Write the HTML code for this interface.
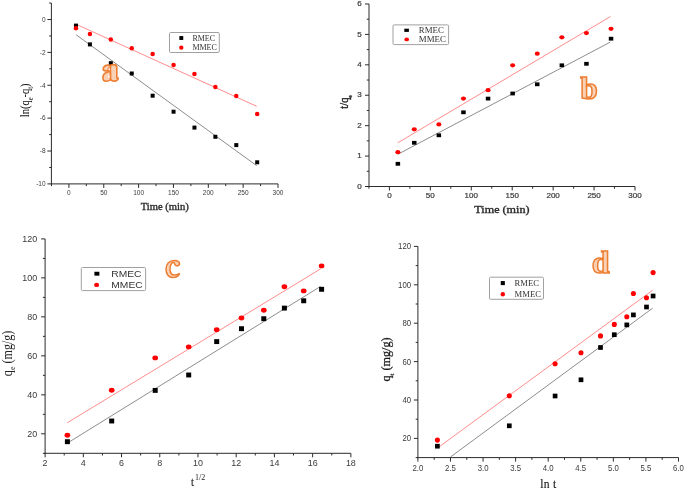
<!DOCTYPE html><html><head><meta charset="utf-8"><style>html,body{margin:0;padding:0;background:#fff;}svg{display:block;filter:blur(0.3px);}</style></head><body>
<svg width="685" height="489" viewBox="0 0 685 489">
<rect width="685" height="489" fill="#fff"/>
<line x1="51.40" y1="3.06" x2="51.40" y2="184.40" stroke="#2b2b2b" stroke-width="1.0" />
<line x1="50.98" y1="183.90" x2="278.00" y2="183.90" stroke="#2b2b2b" stroke-width="1.0" />
<line x1="47.40" y1="183.90" x2="51.40" y2="183.90" stroke="#2b2b2b" stroke-width="1.0" />
<line x1="47.40" y1="151.02" x2="51.40" y2="151.02" stroke="#2b2b2b" stroke-width="1.0" />
<line x1="47.40" y1="118.14" x2="51.40" y2="118.14" stroke="#2b2b2b" stroke-width="1.0" />
<line x1="47.40" y1="85.26" x2="51.40" y2="85.26" stroke="#2b2b2b" stroke-width="1.0" />
<line x1="47.40" y1="52.38" x2="51.40" y2="52.38" stroke="#2b2b2b" stroke-width="1.0" />
<line x1="47.40" y1="19.50" x2="51.40" y2="19.50" stroke="#2b2b2b" stroke-width="1.0" />
<line x1="49.20" y1="167.46" x2="51.40" y2="167.46" stroke="#2b2b2b" stroke-width="1.0" />
<line x1="49.20" y1="134.58" x2="51.40" y2="134.58" stroke="#2b2b2b" stroke-width="1.0" />
<line x1="49.20" y1="101.70" x2="51.40" y2="101.70" stroke="#2b2b2b" stroke-width="1.0" />
<line x1="49.20" y1="68.82" x2="51.40" y2="68.82" stroke="#2b2b2b" stroke-width="1.0" />
<line x1="49.20" y1="35.94" x2="51.40" y2="35.94" stroke="#2b2b2b" stroke-width="1.0" />
<line x1="49.20" y1="3.06" x2="51.40" y2="3.06" stroke="#2b2b2b" stroke-width="1.0" />
<line x1="68.90" y1="183.90" x2="68.90" y2="187.90" stroke="#2b2b2b" stroke-width="1.0" />
<line x1="103.75" y1="183.90" x2="103.75" y2="187.90" stroke="#2b2b2b" stroke-width="1.0" />
<line x1="138.60" y1="183.90" x2="138.60" y2="187.90" stroke="#2b2b2b" stroke-width="1.0" />
<line x1="173.45" y1="183.90" x2="173.45" y2="187.90" stroke="#2b2b2b" stroke-width="1.0" />
<line x1="208.30" y1="183.90" x2="208.30" y2="187.90" stroke="#2b2b2b" stroke-width="1.0" />
<line x1="243.15" y1="183.90" x2="243.15" y2="187.90" stroke="#2b2b2b" stroke-width="1.0" />
<line x1="278.00" y1="183.90" x2="278.00" y2="187.90" stroke="#2b2b2b" stroke-width="1.0" />
<line x1="51.48" y1="183.90" x2="51.48" y2="186.10" stroke="#2b2b2b" stroke-width="1.0" />
<line x1="86.33" y1="183.90" x2="86.33" y2="186.10" stroke="#2b2b2b" stroke-width="1.0" />
<line x1="121.18" y1="183.90" x2="121.18" y2="186.10" stroke="#2b2b2b" stroke-width="1.0" />
<line x1="156.03" y1="183.90" x2="156.03" y2="186.10" stroke="#2b2b2b" stroke-width="1.0" />
<line x1="190.88" y1="183.90" x2="190.88" y2="186.10" stroke="#2b2b2b" stroke-width="1.0" />
<line x1="225.72" y1="183.90" x2="225.72" y2="186.10" stroke="#2b2b2b" stroke-width="1.0" />
<line x1="260.57" y1="183.90" x2="260.57" y2="186.10" stroke="#2b2b2b" stroke-width="1.0" />
<text x="68.90" y="195.20" font-family='"Liberation Sans", sans-serif' font-size="6.5" text-anchor="middle" fill="#3a3a3a" font-weight="normal" >0</text>
<text x="103.75" y="195.20" font-family='"Liberation Sans", sans-serif' font-size="6.5" text-anchor="middle" fill="#3a3a3a" font-weight="normal" >50</text>
<text x="138.60" y="195.20" font-family='"Liberation Sans", sans-serif' font-size="6.5" text-anchor="middle" fill="#3a3a3a" font-weight="normal" >100</text>
<text x="173.45" y="195.20" font-family='"Liberation Sans", sans-serif' font-size="6.5" text-anchor="middle" fill="#3a3a3a" font-weight="normal" >150</text>
<text x="208.30" y="195.20" font-family='"Liberation Sans", sans-serif' font-size="6.5" text-anchor="middle" fill="#3a3a3a" font-weight="normal" >200</text>
<text x="243.15" y="195.20" font-family='"Liberation Sans", sans-serif' font-size="6.5" text-anchor="middle" fill="#3a3a3a" font-weight="normal" >250</text>
<text x="278.00" y="195.20" font-family='"Liberation Sans", sans-serif' font-size="6.5" text-anchor="middle" fill="#3a3a3a" font-weight="normal" >300</text>
<text x="45.60" y="186.24" font-family='"Liberation Sans", sans-serif' font-size="6.5" text-anchor="end" fill="#3a3a3a" font-weight="normal" >-10</text>
<text x="45.60" y="153.36" font-family='"Liberation Sans", sans-serif' font-size="6.5" text-anchor="end" fill="#3a3a3a" font-weight="normal" >-8</text>
<text x="45.60" y="120.48" font-family='"Liberation Sans", sans-serif' font-size="6.5" text-anchor="end" fill="#3a3a3a" font-weight="normal" >-6</text>
<text x="45.60" y="87.60" font-family='"Liberation Sans", sans-serif' font-size="6.5" text-anchor="end" fill="#3a3a3a" font-weight="normal" >-4</text>
<text x="45.60" y="54.72" font-family='"Liberation Sans", sans-serif' font-size="6.5" text-anchor="end" fill="#3a3a3a" font-weight="normal" >-2</text>
<text x="45.60" y="21.84" font-family='"Liberation Sans", sans-serif' font-size="6.5" text-anchor="end" fill="#3a3a3a" font-weight="normal" >0</text>
<line x1="76.20" y1="24.30" x2="256.70" y2="106.30" stroke="#ff7070" stroke-width="0.8" />
<line x1="76.20" y1="34.80" x2="256.70" y2="165.70" stroke="#707070" stroke-width="0.8" />
<rect x="73.97" y="23.60" width="4.00" height="4.00" fill="#000"/>
<rect x="87.91" y="42.40" width="4.00" height="4.00" fill="#000"/>
<rect x="108.82" y="61.20" width="4.00" height="4.00" fill="#000"/>
<rect x="129.73" y="71.50" width="4.00" height="4.00" fill="#000"/>
<rect x="150.64" y="93.70" width="4.00" height="4.00" fill="#000"/>
<rect x="171.55" y="109.70" width="4.00" height="4.00" fill="#000"/>
<rect x="192.46" y="125.60" width="4.00" height="4.00" fill="#000"/>
<rect x="213.37" y="134.80" width="4.00" height="4.00" fill="#000"/>
<rect x="234.28" y="143.10" width="4.00" height="4.00" fill="#000"/>
<rect x="255.19" y="160.30" width="4.00" height="4.00" fill="#000"/>
<ellipse cx="75.97" cy="28.20" rx="2.25" ry="2.25" fill="#ff0000"/>
<ellipse cx="89.91" cy="33.90" rx="2.25" ry="2.25" fill="#ff0000"/>
<ellipse cx="110.82" cy="39.60" rx="2.25" ry="2.25" fill="#ff0000"/>
<ellipse cx="131.73" cy="48.30" rx="2.25" ry="2.25" fill="#ff0000"/>
<ellipse cx="152.64" cy="54.00" rx="2.25" ry="2.25" fill="#ff0000"/>
<ellipse cx="173.55" cy="65.00" rx="2.25" ry="2.25" fill="#ff0000"/>
<ellipse cx="194.46" cy="73.90" rx="2.25" ry="2.25" fill="#ff0000"/>
<ellipse cx="215.37" cy="87.10" rx="2.25" ry="2.25" fill="#ff0000"/>
<ellipse cx="236.28" cy="96.00" rx="2.25" ry="2.25" fill="#ff0000"/>
<ellipse cx="257.19" cy="114.10" rx="2.25" ry="2.25" fill="#ff0000"/>
<rect x="169.5" y="32.5" width="49.8" height="20" fill="#fff" stroke="#a0a0a0" stroke-width="1" rx="1.2"/>
<rect x="179.35" y="36.05" width="3.90" height="3.90" fill="#000"/>
<ellipse cx="181.30" cy="47.70" rx="2.15" ry="2.15" fill="#ff0000"/>
<text x="192.40" y="40.90" font-family='"Liberation Serif", serif' font-size="8" text-anchor="start" fill="#333" font-weight="normal" >RMEC</text>
<text x="192.40" y="50.40" font-family='"Liberation Serif", serif' font-size="8" text-anchor="start" fill="#333" font-weight="normal" >MMEC</text>
<text x="164.80" y="209.70" font-family='"Liberation Serif", serif' font-size="10.6" text-anchor="middle" fill="#2a2a2a" font-weight="normal" stroke="#2a2a2a" stroke-width="0.35">Time (min)</text>
<text transform="translate(28.8,100.3) scale(1.13,1) rotate(-90)" font-family='"Liberation Serif", serif' font-size="10.5" text-anchor="middle" fill="#111">ln(q<tspan font-size="6.5" dy="3.5">e</tspan><tspan dy="-3.5">-q</tspan><tspan font-size="6.5" dy="3.5">t</tspan><tspan dy="-3.5">)</tspan></text>
<line x1="369.00" y1="3.98" x2="369.00" y2="187.00" stroke="#2b2b2b" stroke-width="1.0" />
<line x1="368.43" y1="186.50" x2="635.01" y2="186.50" stroke="#2b2b2b" stroke-width="1.0" />
<line x1="365.00" y1="186.50" x2="369.00" y2="186.50" stroke="#2b2b2b" stroke-width="1.0" />
<line x1="365.00" y1="156.08" x2="369.00" y2="156.08" stroke="#2b2b2b" stroke-width="1.0" />
<line x1="365.00" y1="125.66" x2="369.00" y2="125.66" stroke="#2b2b2b" stroke-width="1.0" />
<line x1="365.00" y1="95.24" x2="369.00" y2="95.24" stroke="#2b2b2b" stroke-width="1.0" />
<line x1="365.00" y1="64.82" x2="369.00" y2="64.82" stroke="#2b2b2b" stroke-width="1.0" />
<line x1="365.00" y1="34.40" x2="369.00" y2="34.40" stroke="#2b2b2b" stroke-width="1.0" />
<line x1="365.00" y1="3.98" x2="369.00" y2="3.98" stroke="#2b2b2b" stroke-width="1.0" />
<line x1="366.80" y1="171.29" x2="369.00" y2="171.29" stroke="#2b2b2b" stroke-width="1.0" />
<line x1="366.80" y1="140.87" x2="369.00" y2="140.87" stroke="#2b2b2b" stroke-width="1.0" />
<line x1="366.80" y1="110.45" x2="369.00" y2="110.45" stroke="#2b2b2b" stroke-width="1.0" />
<line x1="366.80" y1="80.03" x2="369.00" y2="80.03" stroke="#2b2b2b" stroke-width="1.0" />
<line x1="366.80" y1="49.61" x2="369.00" y2="49.61" stroke="#2b2b2b" stroke-width="1.0" />
<line x1="366.80" y1="19.19" x2="369.00" y2="19.19" stroke="#2b2b2b" stroke-width="1.0" />
<line x1="389.40" y1="186.50" x2="389.40" y2="190.50" stroke="#2b2b2b" stroke-width="1.0" />
<line x1="430.33" y1="186.50" x2="430.33" y2="190.50" stroke="#2b2b2b" stroke-width="1.0" />
<line x1="471.27" y1="186.50" x2="471.27" y2="190.50" stroke="#2b2b2b" stroke-width="1.0" />
<line x1="512.20" y1="186.50" x2="512.20" y2="190.50" stroke="#2b2b2b" stroke-width="1.0" />
<line x1="553.14" y1="186.50" x2="553.14" y2="190.50" stroke="#2b2b2b" stroke-width="1.0" />
<line x1="594.07" y1="186.50" x2="594.07" y2="190.50" stroke="#2b2b2b" stroke-width="1.0" />
<line x1="635.01" y1="186.50" x2="635.01" y2="190.50" stroke="#2b2b2b" stroke-width="1.0" />
<line x1="368.93" y1="186.50" x2="368.93" y2="188.70" stroke="#2b2b2b" stroke-width="1.0" />
<line x1="409.87" y1="186.50" x2="409.87" y2="188.70" stroke="#2b2b2b" stroke-width="1.0" />
<line x1="450.80" y1="186.50" x2="450.80" y2="188.70" stroke="#2b2b2b" stroke-width="1.0" />
<line x1="491.74" y1="186.50" x2="491.74" y2="188.70" stroke="#2b2b2b" stroke-width="1.0" />
<line x1="532.67" y1="186.50" x2="532.67" y2="188.70" stroke="#2b2b2b" stroke-width="1.0" />
<line x1="573.61" y1="186.50" x2="573.61" y2="188.70" stroke="#2b2b2b" stroke-width="1.0" />
<line x1="614.54" y1="186.50" x2="614.54" y2="188.70" stroke="#2b2b2b" stroke-width="1.0" />
<text transform="translate(389.40,198.00) scale(1.1,1)" font-family='"Liberation Sans", sans-serif' font-size="7.3" text-anchor="middle" fill="#3a3a3a" font-weight="normal" stroke="#3a3a3a" stroke-width="0.2">0</text>
<text transform="translate(430.33,198.00) scale(1.1,1)" font-family='"Liberation Sans", sans-serif' font-size="7.3" text-anchor="middle" fill="#3a3a3a" font-weight="normal" stroke="#3a3a3a" stroke-width="0.2">50</text>
<text transform="translate(471.27,198.00) scale(1.1,1)" font-family='"Liberation Sans", sans-serif' font-size="7.3" text-anchor="middle" fill="#3a3a3a" font-weight="normal" stroke="#3a3a3a" stroke-width="0.2">100</text>
<text transform="translate(512.20,198.00) scale(1.1,1)" font-family='"Liberation Sans", sans-serif' font-size="7.3" text-anchor="middle" fill="#3a3a3a" font-weight="normal" stroke="#3a3a3a" stroke-width="0.2">150</text>
<text transform="translate(553.14,198.00) scale(1.1,1)" font-family='"Liberation Sans", sans-serif' font-size="7.3" text-anchor="middle" fill="#3a3a3a" font-weight="normal" stroke="#3a3a3a" stroke-width="0.2">200</text>
<text transform="translate(594.07,198.00) scale(1.1,1)" font-family='"Liberation Sans", sans-serif' font-size="7.3" text-anchor="middle" fill="#3a3a3a" font-weight="normal" stroke="#3a3a3a" stroke-width="0.2">250</text>
<text transform="translate(635.01,198.00) scale(1.1,1)" font-family='"Liberation Sans", sans-serif' font-size="7.3" text-anchor="middle" fill="#3a3a3a" font-weight="normal" stroke="#3a3a3a" stroke-width="0.2">300</text>
<text transform="translate(361.60,188.62) scale(1.1,1)" font-family='"Liberation Sans", sans-serif' font-size="7.3" text-anchor="end" fill="#3a3a3a" font-weight="normal" stroke="#3a3a3a" stroke-width="0.2">0</text>
<text transform="translate(361.60,158.20) scale(1.1,1)" font-family='"Liberation Sans", sans-serif' font-size="7.3" text-anchor="end" fill="#3a3a3a" font-weight="normal" stroke="#3a3a3a" stroke-width="0.2">1</text>
<text transform="translate(361.60,127.78) scale(1.1,1)" font-family='"Liberation Sans", sans-serif' font-size="7.3" text-anchor="end" fill="#3a3a3a" font-weight="normal" stroke="#3a3a3a" stroke-width="0.2">2</text>
<text transform="translate(361.60,97.36) scale(1.1,1)" font-family='"Liberation Sans", sans-serif' font-size="7.3" text-anchor="end" fill="#3a3a3a" font-weight="normal" stroke="#3a3a3a" stroke-width="0.2">3</text>
<text transform="translate(361.60,66.94) scale(1.1,1)" font-family='"Liberation Sans", sans-serif' font-size="7.3" text-anchor="end" fill="#3a3a3a" font-weight="normal" stroke="#3a3a3a" stroke-width="0.2">4</text>
<text transform="translate(361.60,36.52) scale(1.1,1)" font-family='"Liberation Sans", sans-serif' font-size="7.3" text-anchor="end" fill="#3a3a3a" font-weight="normal" stroke="#3a3a3a" stroke-width="0.2">5</text>
<text transform="translate(361.60,6.10) scale(1.1,1)" font-family='"Liberation Sans", sans-serif' font-size="7.3" text-anchor="end" fill="#3a3a3a" font-weight="normal" stroke="#3a3a3a" stroke-width="0.2">6</text>
<line x1="397.80" y1="142.80" x2="610.50" y2="16.50" stroke="#ff7070" stroke-width="0.8" />
<line x1="397.80" y1="154.30" x2="610.30" y2="42.10" stroke="#707070" stroke-width="0.8" />
<rect x="395.62" y="161.90" width="4.50" height="3.80" fill="#000"/>
<rect x="412.02" y="140.90" width="4.50" height="3.80" fill="#000"/>
<rect x="436.61" y="133.40" width="4.50" height="3.80" fill="#000"/>
<rect x="461.21" y="110.40" width="4.50" height="3.80" fill="#000"/>
<rect x="485.81" y="96.70" width="4.50" height="3.80" fill="#000"/>
<rect x="510.40" y="91.60" width="4.50" height="3.80" fill="#000"/>
<rect x="535.00" y="82.40" width="4.50" height="3.80" fill="#000"/>
<rect x="559.60" y="63.40" width="4.50" height="3.80" fill="#000"/>
<rect x="584.20" y="61.90" width="4.50" height="3.80" fill="#000"/>
<rect x="608.79" y="36.80" width="4.50" height="3.80" fill="#000"/>
<ellipse cx="397.87" cy="152.20" rx="2.55" ry="2.10" fill="#ff0000"/>
<ellipse cx="414.27" cy="129.30" rx="2.55" ry="2.10" fill="#ff0000"/>
<ellipse cx="438.86" cy="124.40" rx="2.55" ry="2.10" fill="#ff0000"/>
<ellipse cx="463.46" cy="98.60" rx="2.55" ry="2.10" fill="#ff0000"/>
<ellipse cx="488.06" cy="90.20" rx="2.55" ry="2.10" fill="#ff0000"/>
<ellipse cx="512.65" cy="65.30" rx="2.55" ry="2.10" fill="#ff0000"/>
<ellipse cx="537.25" cy="53.70" rx="2.55" ry="2.10" fill="#ff0000"/>
<ellipse cx="561.85" cy="37.30" rx="2.55" ry="2.10" fill="#ff0000"/>
<ellipse cx="586.45" cy="33.10" rx="2.55" ry="2.10" fill="#ff0000"/>
<ellipse cx="611.04" cy="28.80" rx="2.55" ry="2.10" fill="#ff0000"/>
<rect x="393.0" y="24.9" width="55.6" height="19.7" fill="#fff" stroke="#a0a0a0" stroke-width="1" rx="1.2"/>
<rect x="404.30" y="28.70" width="4.60" height="3.20" fill="#000"/>
<ellipse cx="406.70" cy="39.40" rx="2.30" ry="1.95" fill="#ff0000"/>
<text transform="translate(418.80,33.00) scale(1.08,1)" font-family='"Liberation Serif", serif' font-size="8.2" text-anchor="start" fill="#333" font-weight="normal" >RMEC</text>
<text transform="translate(418.80,41.90) scale(1.08,1)" font-family='"Liberation Serif", serif' font-size="8.2" text-anchor="start" fill="#333" font-weight="normal" >MMEC</text>
<text transform="translate(501.95,212.60) scale(1.18,1)" font-family='"Liberation Serif", serif' font-size="10.3" text-anchor="middle" fill="#2a2a2a" font-weight="normal" stroke="#2a2a2a" stroke-width="0.35">Time (min)</text>
<text transform="translate(348.2,101.85) scale(1.14,1) rotate(-90)" font-family='"Liberation Serif", serif' font-size="10.4" text-anchor="middle" fill="#1a1a1a" stroke="#1a1a1a" stroke-width="0.3">t/q<tspan font-size="5.8" dy="3.2">e</tspan></text>
<line x1="45.10" y1="238.91" x2="45.10" y2="453.80" stroke="#2b2b2b" stroke-width="1.0" />
<line x1="44.60" y1="453.30" x2="350.86" y2="453.30" stroke="#2b2b2b" stroke-width="1.0" />
<line x1="41.10" y1="433.81" x2="45.10" y2="433.81" stroke="#2b2b2b" stroke-width="1.0" />
<line x1="41.10" y1="394.83" x2="45.10" y2="394.83" stroke="#2b2b2b" stroke-width="1.0" />
<line x1="41.10" y1="355.85" x2="45.10" y2="355.85" stroke="#2b2b2b" stroke-width="1.0" />
<line x1="41.10" y1="316.87" x2="45.10" y2="316.87" stroke="#2b2b2b" stroke-width="1.0" />
<line x1="41.10" y1="277.89" x2="45.10" y2="277.89" stroke="#2b2b2b" stroke-width="1.0" />
<line x1="41.10" y1="238.91" x2="45.10" y2="238.91" stroke="#2b2b2b" stroke-width="1.0" />
<line x1="42.90" y1="453.30" x2="45.10" y2="453.30" stroke="#2b2b2b" stroke-width="1.0" />
<line x1="42.90" y1="414.32" x2="45.10" y2="414.32" stroke="#2b2b2b" stroke-width="1.0" />
<line x1="42.90" y1="375.34" x2="45.10" y2="375.34" stroke="#2b2b2b" stroke-width="1.0" />
<line x1="42.90" y1="336.36" x2="45.10" y2="336.36" stroke="#2b2b2b" stroke-width="1.0" />
<line x1="42.90" y1="297.38" x2="45.10" y2="297.38" stroke="#2b2b2b" stroke-width="1.0" />
<line x1="42.90" y1="258.40" x2="45.10" y2="258.40" stroke="#2b2b2b" stroke-width="1.0" />
<line x1="45.10" y1="453.30" x2="45.10" y2="457.30" stroke="#2b2b2b" stroke-width="1.0" />
<line x1="83.32" y1="453.30" x2="83.32" y2="457.30" stroke="#2b2b2b" stroke-width="1.0" />
<line x1="121.54" y1="453.30" x2="121.54" y2="457.30" stroke="#2b2b2b" stroke-width="1.0" />
<line x1="159.76" y1="453.30" x2="159.76" y2="457.30" stroke="#2b2b2b" stroke-width="1.0" />
<line x1="197.98" y1="453.30" x2="197.98" y2="457.30" stroke="#2b2b2b" stroke-width="1.0" />
<line x1="236.20" y1="453.30" x2="236.20" y2="457.30" stroke="#2b2b2b" stroke-width="1.0" />
<line x1="274.42" y1="453.30" x2="274.42" y2="457.30" stroke="#2b2b2b" stroke-width="1.0" />
<line x1="312.64" y1="453.30" x2="312.64" y2="457.30" stroke="#2b2b2b" stroke-width="1.0" />
<line x1="350.86" y1="453.30" x2="350.86" y2="457.30" stroke="#2b2b2b" stroke-width="1.0" />
<line x1="64.21" y1="453.30" x2="64.21" y2="455.50" stroke="#2b2b2b" stroke-width="1.0" />
<line x1="102.43" y1="453.30" x2="102.43" y2="455.50" stroke="#2b2b2b" stroke-width="1.0" />
<line x1="140.65" y1="453.30" x2="140.65" y2="455.50" stroke="#2b2b2b" stroke-width="1.0" />
<line x1="178.87" y1="453.30" x2="178.87" y2="455.50" stroke="#2b2b2b" stroke-width="1.0" />
<line x1="217.09" y1="453.30" x2="217.09" y2="455.50" stroke="#2b2b2b" stroke-width="1.0" />
<line x1="255.31" y1="453.30" x2="255.31" y2="455.50" stroke="#2b2b2b" stroke-width="1.0" />
<line x1="293.53" y1="453.30" x2="293.53" y2="455.50" stroke="#2b2b2b" stroke-width="1.0" />
<line x1="331.75" y1="453.30" x2="331.75" y2="455.50" stroke="#2b2b2b" stroke-width="1.0" />
<text transform="translate(45.10,466.30) scale(1.08,1)" font-family='"Liberation Sans", sans-serif' font-size="8.3" text-anchor="middle" fill="#3a3a3a" font-weight="normal" >2</text>
<text transform="translate(83.32,466.30) scale(1.08,1)" font-family='"Liberation Sans", sans-serif' font-size="8.3" text-anchor="middle" fill="#3a3a3a" font-weight="normal" >4</text>
<text transform="translate(121.54,466.30) scale(1.08,1)" font-family='"Liberation Sans", sans-serif' font-size="8.3" text-anchor="middle" fill="#3a3a3a" font-weight="normal" >6</text>
<text transform="translate(159.76,466.30) scale(1.08,1)" font-family='"Liberation Sans", sans-serif' font-size="8.3" text-anchor="middle" fill="#3a3a3a" font-weight="normal" >8</text>
<text transform="translate(197.98,466.30) scale(1.08,1)" font-family='"Liberation Sans", sans-serif' font-size="8.3" text-anchor="middle" fill="#3a3a3a" font-weight="normal" >10</text>
<text transform="translate(236.20,466.30) scale(1.08,1)" font-family='"Liberation Sans", sans-serif' font-size="8.3" text-anchor="middle" fill="#3a3a3a" font-weight="normal" >12</text>
<text transform="translate(274.42,466.30) scale(1.08,1)" font-family='"Liberation Sans", sans-serif' font-size="8.3" text-anchor="middle" fill="#3a3a3a" font-weight="normal" >14</text>
<text transform="translate(312.64,466.30) scale(1.08,1)" font-family='"Liberation Sans", sans-serif' font-size="8.3" text-anchor="middle" fill="#3a3a3a" font-weight="normal" >16</text>
<text transform="translate(350.86,466.30) scale(1.08,1)" font-family='"Liberation Sans", sans-serif' font-size="8.3" text-anchor="middle" fill="#3a3a3a" font-weight="normal" >18</text>
<text transform="translate(37.20,436.80) scale(1.08,1)" font-family='"Liberation Sans", sans-serif' font-size="8.3" text-anchor="end" fill="#3a3a3a" font-weight="normal" >20</text>
<text transform="translate(37.20,397.82) scale(1.08,1)" font-family='"Liberation Sans", sans-serif' font-size="8.3" text-anchor="end" fill="#3a3a3a" font-weight="normal" >40</text>
<text transform="translate(37.20,358.84) scale(1.08,1)" font-family='"Liberation Sans", sans-serif' font-size="8.3" text-anchor="end" fill="#3a3a3a" font-weight="normal" >60</text>
<text transform="translate(37.20,319.86) scale(1.08,1)" font-family='"Liberation Sans", sans-serif' font-size="8.3" text-anchor="end" fill="#3a3a3a" font-weight="normal" >80</text>
<text transform="translate(37.20,280.88) scale(1.08,1)" font-family='"Liberation Sans", sans-serif' font-size="8.3" text-anchor="end" fill="#3a3a3a" font-weight="normal" >100</text>
<text transform="translate(37.20,241.90) scale(1.08,1)" font-family='"Liberation Sans", sans-serif' font-size="8.3" text-anchor="end" fill="#3a3a3a" font-weight="normal" >120</text>
<line x1="67.20" y1="422.80" x2="320.60" y2="268.90" stroke="#ff7070" stroke-width="0.8" />
<line x1="67.20" y1="443.20" x2="320.60" y2="286.40" stroke="#707070" stroke-width="0.8" />
<rect x="64.90" y="439.25" width="5.00" height="4.90" fill="#000"/>
<rect x="109.20" y="418.55" width="5.00" height="4.90" fill="#000"/>
<rect x="152.70" y="387.95" width="5.00" height="4.90" fill="#000"/>
<rect x="186.20" y="372.55" width="5.00" height="4.90" fill="#000"/>
<rect x="214.20" y="339.15" width="5.00" height="4.90" fill="#000"/>
<rect x="239.00" y="326.25" width="5.00" height="4.90" fill="#000"/>
<rect x="261.30" y="316.25" width="5.00" height="4.90" fill="#000"/>
<rect x="281.90" y="305.65" width="5.00" height="4.90" fill="#000"/>
<rect x="301.20" y="298.35" width="5.00" height="4.90" fill="#000"/>
<rect x="319.10" y="286.85" width="5.00" height="4.90" fill="#000"/>
<ellipse cx="67.40" cy="435.20" rx="2.85" ry="2.45" fill="#ff0000"/>
<ellipse cx="111.70" cy="390.30" rx="2.85" ry="2.45" fill="#ff0000"/>
<ellipse cx="155.20" cy="357.90" rx="2.85" ry="2.45" fill="#ff0000"/>
<ellipse cx="188.70" cy="346.90" rx="2.85" ry="2.45" fill="#ff0000"/>
<ellipse cx="216.70" cy="329.70" rx="2.85" ry="2.45" fill="#ff0000"/>
<ellipse cx="241.50" cy="318.00" rx="2.85" ry="2.45" fill="#ff0000"/>
<ellipse cx="263.80" cy="310.30" rx="2.85" ry="2.45" fill="#ff0000"/>
<ellipse cx="284.40" cy="286.80" rx="2.85" ry="2.45" fill="#ff0000"/>
<ellipse cx="303.70" cy="290.90" rx="2.85" ry="2.45" fill="#ff0000"/>
<ellipse cx="321.60" cy="265.90" rx="2.85" ry="2.45" fill="#ff0000"/>
<rect x="81.3" y="267.5" width="64.3" height="23.1" fill="#fff" stroke="#a0a0a0" stroke-width="1" rx="1.2"/>
<rect x="94.40" y="271.75" width="5.00" height="3.90" fill="#000"/>
<ellipse cx="96.60" cy="284.90" rx="2.50" ry="2.20" fill="#ff0000"/>
<text transform="translate(111.30,277.00) scale(1.14,1)" font-family='"Liberation Sans", sans-serif' font-size="9" text-anchor="start" fill="#333" font-weight="normal" >RMEC</text>
<text transform="translate(111.30,288.00) scale(1.14,1)" font-family='"Liberation Sans", sans-serif' font-size="9" text-anchor="start" fill="#333" font-weight="normal" >MMEC</text>
<text x="190.7" y="486.2" font-family='"Liberation Serif", serif' font-size="12.5" fill="#222">t<tspan font-size="8" dx="0.9" dy="-6.2">1/2</tspan></text>
<text transform="translate(11.5,353.4) scale(1.16,1) rotate(-90)" font-family='"Liberation Serif", serif' font-size="12.1" text-anchor="middle" fill="#222">q<tspan font-size="8" dy="3">e</tspan><tspan dy="-3"> (mg/g)</tspan></text>
<line x1="417.90" y1="246.40" x2="417.90" y2="458.10" stroke="#2b2b2b" stroke-width="1.0" />
<line x1="417.40" y1="457.60" x2="678.50" y2="457.60" stroke="#2b2b2b" stroke-width="1.0" />
<line x1="413.90" y1="438.40" x2="417.90" y2="438.40" stroke="#2b2b2b" stroke-width="1.0" />
<line x1="413.90" y1="400.00" x2="417.90" y2="400.00" stroke="#2b2b2b" stroke-width="1.0" />
<line x1="413.90" y1="361.60" x2="417.90" y2="361.60" stroke="#2b2b2b" stroke-width="1.0" />
<line x1="413.90" y1="323.20" x2="417.90" y2="323.20" stroke="#2b2b2b" stroke-width="1.0" />
<line x1="413.90" y1="284.80" x2="417.90" y2="284.80" stroke="#2b2b2b" stroke-width="1.0" />
<line x1="413.90" y1="246.40" x2="417.90" y2="246.40" stroke="#2b2b2b" stroke-width="1.0" />
<line x1="415.70" y1="457.60" x2="417.90" y2="457.60" stroke="#2b2b2b" stroke-width="1.0" />
<line x1="415.70" y1="419.20" x2="417.90" y2="419.20" stroke="#2b2b2b" stroke-width="1.0" />
<line x1="415.70" y1="380.80" x2="417.90" y2="380.80" stroke="#2b2b2b" stroke-width="1.0" />
<line x1="415.70" y1="342.40" x2="417.90" y2="342.40" stroke="#2b2b2b" stroke-width="1.0" />
<line x1="415.70" y1="304.00" x2="417.90" y2="304.00" stroke="#2b2b2b" stroke-width="1.0" />
<line x1="415.70" y1="265.60" x2="417.90" y2="265.60" stroke="#2b2b2b" stroke-width="1.0" />
<line x1="417.90" y1="457.60" x2="417.90" y2="461.60" stroke="#2b2b2b" stroke-width="1.0" />
<line x1="450.47" y1="457.60" x2="450.47" y2="461.60" stroke="#2b2b2b" stroke-width="1.0" />
<line x1="483.05" y1="457.60" x2="483.05" y2="461.60" stroke="#2b2b2b" stroke-width="1.0" />
<line x1="515.62" y1="457.60" x2="515.62" y2="461.60" stroke="#2b2b2b" stroke-width="1.0" />
<line x1="548.20" y1="457.60" x2="548.20" y2="461.60" stroke="#2b2b2b" stroke-width="1.0" />
<line x1="580.77" y1="457.60" x2="580.77" y2="461.60" stroke="#2b2b2b" stroke-width="1.0" />
<line x1="613.35" y1="457.60" x2="613.35" y2="461.60" stroke="#2b2b2b" stroke-width="1.0" />
<line x1="645.92" y1="457.60" x2="645.92" y2="461.60" stroke="#2b2b2b" stroke-width="1.0" />
<line x1="678.50" y1="457.60" x2="678.50" y2="461.60" stroke="#2b2b2b" stroke-width="1.0" />
<line x1="434.19" y1="457.60" x2="434.19" y2="459.80" stroke="#2b2b2b" stroke-width="1.0" />
<line x1="466.76" y1="457.60" x2="466.76" y2="459.80" stroke="#2b2b2b" stroke-width="1.0" />
<line x1="499.34" y1="457.60" x2="499.34" y2="459.80" stroke="#2b2b2b" stroke-width="1.0" />
<line x1="531.91" y1="457.60" x2="531.91" y2="459.80" stroke="#2b2b2b" stroke-width="1.0" />
<line x1="564.49" y1="457.60" x2="564.49" y2="459.80" stroke="#2b2b2b" stroke-width="1.0" />
<line x1="597.06" y1="457.60" x2="597.06" y2="459.80" stroke="#2b2b2b" stroke-width="1.0" />
<line x1="629.64" y1="457.60" x2="629.64" y2="459.80" stroke="#2b2b2b" stroke-width="1.0" />
<line x1="662.21" y1="457.60" x2="662.21" y2="459.80" stroke="#2b2b2b" stroke-width="1.0" />
<text transform="translate(417.90,470.90) scale(0.95,1)" font-family='"Liberation Sans", sans-serif' font-size="8.2" text-anchor="middle" fill="#3a3a3a" font-weight="normal" >2.0</text>
<text transform="translate(450.47,470.90) scale(0.95,1)" font-family='"Liberation Sans", sans-serif' font-size="8.2" text-anchor="middle" fill="#3a3a3a" font-weight="normal" >2.5</text>
<text transform="translate(483.05,470.90) scale(0.95,1)" font-family='"Liberation Sans", sans-serif' font-size="8.2" text-anchor="middle" fill="#3a3a3a" font-weight="normal" >3.0</text>
<text transform="translate(515.62,470.90) scale(0.95,1)" font-family='"Liberation Sans", sans-serif' font-size="8.2" text-anchor="middle" fill="#3a3a3a" font-weight="normal" >3.5</text>
<text transform="translate(548.20,470.90) scale(0.95,1)" font-family='"Liberation Sans", sans-serif' font-size="8.2" text-anchor="middle" fill="#3a3a3a" font-weight="normal" >4.0</text>
<text transform="translate(580.77,470.90) scale(0.95,1)" font-family='"Liberation Sans", sans-serif' font-size="8.2" text-anchor="middle" fill="#3a3a3a" font-weight="normal" >4.5</text>
<text transform="translate(613.35,470.90) scale(0.95,1)" font-family='"Liberation Sans", sans-serif' font-size="8.2" text-anchor="middle" fill="#3a3a3a" font-weight="normal" >5.0</text>
<text transform="translate(645.92,470.90) scale(0.95,1)" font-family='"Liberation Sans", sans-serif' font-size="8.2" text-anchor="middle" fill="#3a3a3a" font-weight="normal" >5.5</text>
<text transform="translate(678.50,470.90) scale(0.95,1)" font-family='"Liberation Sans", sans-serif' font-size="8.2" text-anchor="middle" fill="#3a3a3a" font-weight="normal" >6.0</text>
<text transform="translate(411.10,441.35) scale(0.95,1)" font-family='"Liberation Sans", sans-serif' font-size="8.2" text-anchor="end" fill="#3a3a3a" font-weight="normal" >20</text>
<text transform="translate(411.10,402.95) scale(0.95,1)" font-family='"Liberation Sans", sans-serif' font-size="8.2" text-anchor="end" fill="#3a3a3a" font-weight="normal" >40</text>
<text transform="translate(411.10,364.55) scale(0.95,1)" font-family='"Liberation Sans", sans-serif' font-size="8.2" text-anchor="end" fill="#3a3a3a" font-weight="normal" >60</text>
<text transform="translate(411.10,326.15) scale(0.95,1)" font-family='"Liberation Sans", sans-serif' font-size="8.2" text-anchor="end" fill="#3a3a3a" font-weight="normal" >80</text>
<text transform="translate(411.10,287.75) scale(0.95,1)" font-family='"Liberation Sans", sans-serif' font-size="8.2" text-anchor="end" fill="#3a3a3a" font-weight="normal" >100</text>
<text transform="translate(411.10,249.35) scale(0.95,1)" font-family='"Liberation Sans", sans-serif' font-size="8.2" text-anchor="end" fill="#3a3a3a" font-weight="normal" >120</text>
<line x1="438.40" y1="447.40" x2="652.60" y2="290.30" stroke="#ff7070" stroke-width="0.8" />
<line x1="450.60" y1="456.90" x2="652.60" y2="308.20" stroke="#707070" stroke-width="0.8" />
<rect x="435.05" y="443.85" width="4.70" height="4.70" fill="#000"/>
<rect x="506.95" y="423.45" width="4.70" height="4.70" fill="#000"/>
<rect x="552.75" y="393.65" width="4.70" height="4.70" fill="#000"/>
<rect x="578.65" y="377.45" width="4.70" height="4.70" fill="#000"/>
<rect x="598.15" y="345.15" width="4.70" height="4.70" fill="#000"/>
<rect x="611.95" y="332.35" width="4.70" height="4.70" fill="#000"/>
<rect x="624.45" y="322.55" width="4.70" height="4.70" fill="#000"/>
<rect x="631.05" y="312.55" width="4.70" height="4.70" fill="#000"/>
<rect x="644.15" y="304.65" width="4.70" height="4.70" fill="#000"/>
<rect x="650.75" y="293.65" width="4.70" height="4.70" fill="#000"/>
<ellipse cx="437.40" cy="440.10" rx="2.55" ry="2.55" fill="#ff0000"/>
<ellipse cx="509.30" cy="395.80" rx="2.55" ry="2.55" fill="#ff0000"/>
<ellipse cx="555.10" cy="363.80" rx="2.55" ry="2.55" fill="#ff0000"/>
<ellipse cx="581.00" cy="352.80" rx="2.55" ry="2.55" fill="#ff0000"/>
<ellipse cx="600.50" cy="335.90" rx="2.55" ry="2.55" fill="#ff0000"/>
<ellipse cx="614.30" cy="324.40" rx="2.55" ry="2.55" fill="#ff0000"/>
<ellipse cx="626.80" cy="316.80" rx="2.55" ry="2.55" fill="#ff0000"/>
<ellipse cx="633.40" cy="293.50" rx="2.55" ry="2.55" fill="#ff0000"/>
<ellipse cx="646.50" cy="297.70" rx="2.55" ry="2.55" fill="#ff0000"/>
<ellipse cx="653.10" cy="272.60" rx="2.55" ry="2.55" fill="#ff0000"/>
<rect x="489.5" y="277.2" width="54.0" height="22.1" fill="#fff" stroke="#a0a0a0" stroke-width="1" rx="1.2"/>
<rect x="500.75" y="281.05" width="4.10" height="4.10" fill="#000"/>
<ellipse cx="502.80" cy="294.30" rx="2.20" ry="2.20" fill="#ff0000"/>
<text x="514.60" y="286.20" font-family='"Liberation Serif", serif' font-size="8.6" text-anchor="start" fill="#333" font-weight="normal" >RMEC</text>
<text x="514.60" y="297.00" font-family='"Liberation Serif", serif' font-size="8.6" text-anchor="start" fill="#333" font-weight="normal" >MMEC</text>
<text x="548.40" y="487.70" font-family='"Liberation Serif", serif' font-size="11.6" text-anchor="middle" fill="#222" font-weight="normal" letter-spacing="0.3" stroke="#222" stroke-width="0.15">ln t</text>
<text transform="translate(389.5,359.5) rotate(-90)" font-family='"Liberation Serif", serif' font-size="12.2" text-anchor="middle" fill="#1a1a1a" stroke="#1a1a1a" stroke-width="0.25">q<tspan font-size="6.5" dy="4.5">t</tspan><tspan dy="-4.5"> (mg/g)</tspan></text>
<g fill="#f9d2b6" stroke="#ed7d31" stroke-width="1.6" stroke-linejoin="round">
<path d="M110.4 66.4 C110.4 65.2 111.6 64.6 113.6 64.6 C115.8 64.6 116.8 65.6 116.8 67.2 L116.8 77.4 C116.8 78.2 117.5 78.4 118.3 78.0 C118.0 80.0 116.5 81.2 114.6 81.1 C112.3 81.0 110.4 80.1 110.4 78.4 Z"/>
<path d="M103.2 69.9 C102.9 67.4 104.7 65.3 107.4 65.1 L110.4 65.3 L110.4 67.2 C109.2 67.1 108.4 67.7 108.4 68.7 L108.4 70.5 C106.6 71.0 104.4 71.0 103.2 69.9 Z"/>
<path d="M110.4 71.2 L106.9 72.3 C104.3 73.2 102.9 75.3 102.9 77.8 C102.9 80.0 104.1 81.2 106.2 81.2 C107.9 81.2 109.4 80.7 110.4 79.7 Z"/>
</g>
<ellipse cx="108.9" cy="76.3" rx="0.6" ry="1.7" fill="#fff"/>
<ellipse cx="109.1" cy="68.9" rx="0.55" ry="1.4" fill="#fff"/>
<text transform="translate(580.30,98.60) scale(1.0,1)" font-family='"Liberation Serif", serif' font-size="31.5" font-weight="bold" fill="#f9d2b6" stroke="#ed7d31" stroke-width="1.5">b</text>
<path d="M179.4 274.1 C177.9 276.5 175.6 277.6 172.8 277.6 C168.7 277.6 166.0 274.1 166.0 269.2 C166.0 263.9 169.5 260.4 174.2 260.4 C177.3 260.4 179.5 261.7 179.5 263.6 C179.5 265.0 178.4 265.9 177.1 265.9 C175.9 265.9 175.0 265.1 174.7 264.0 L174.3 262.9 C173.6 262.4 172.5 262.4 171.7 263.2 C170.5 264.5 170.0 266.7 170.0 269.0 C170.0 272.7 171.9 275.1 174.8 275.1 C176.6 275.1 177.9 274.5 179.0 273.5 Z" fill="#f9d2b6" stroke="#ed7d31" stroke-width="1.5" stroke-linejoin="round"/>
<text transform="translate(591.70,272.50) scale(1.0,1)" font-family='"Liberation Serif", serif' font-size="32" font-weight="bold" fill="#f9d2b6" stroke="#ed7d31" stroke-width="1.5">d</text>
</svg></body></html>
